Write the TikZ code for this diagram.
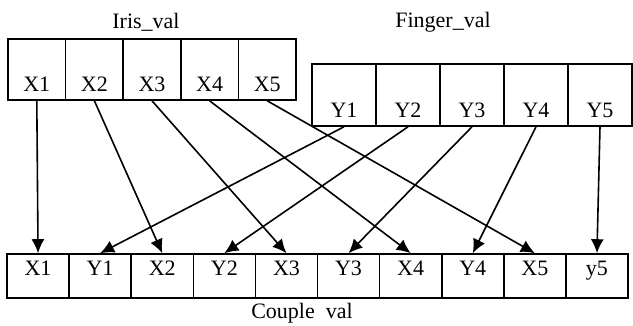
\documentclass[tikz,border=0pt]{standalone}
\usepackage{fontspec}
\setmainfont{Liberation Serif}
\usepackage{tikz}
\usetikzlibrary{arrows.meta}

\begin{document}
\begin{tikzpicture}[
    x=1pt, y=-1pt,
    cell/.style={rectangle, draw=black, line width=1.6pt, inner sep=0pt, font=\fontsize{22}{26}\selectfont},
    iriscell/.style={cell, minimum width=57.6pt, minimum height=61pt, text height=43pt, text depth=0pt},
    fingercell/.style={cell, minimum width=64pt, minimum height=62pt, text height=44pt, text depth=0pt},
    couplecell/.style={cell, minimum width=62.1pt, minimum height=44pt, text height=15pt, text depth=17pt},
    title/.style={font=\fontsize{22}{26}\selectfont, inner sep=0pt},
    link/.style={line width=1.6pt, black, -{Latex[length=14pt, width=13pt]}},
]
    \useasboundingbox (0,0) rectangle (633,325);

    % --- Iris_val (top left) ---
    \node[title] (IrisT) at (146, 22) {Iris\_val};
    \node[iriscell] (X1) at (36.8, 69.5)  {X1};
    \node[iriscell] (X2) at (94.4, 69.5)  {X2};
    \node[iriscell] (X3) at (152, 69.5)   {X3};
    \node[iriscell] (X4) at (209.6, 69.5) {X4};
    \node[iriscell] (X5) at (267.2, 69.5) {X5};

    % --- Finger_val (top right) ---
    \node[title] (FingerT) at (443, 22) {Finger\_val};
    \node[fingercell] (Y1) at (344, 95) {Y1};
    \node[fingercell] (Y2) at (408, 95) {Y2};
    \node[fingercell] (Y3) at (472, 95) {Y3};
    \node[fingercell] (Y4) at (536, 95) {Y4};
    \node[fingercell] (Y5) at (600, 95) {Y5};

    % --- Couple val (bottom) ---
    \node[couplecell] (CX1) at (38.05, 276)  {X1};
    \node[couplecell] (CY1) at (100.15, 276) {Y1};
    \node[couplecell] (CX2) at (162.25, 276) {X2};
    \node[couplecell] (CY2) at (224.35, 276) {Y2};
    \node[couplecell] (CX3) at (286.45, 276) {X3};
    \node[couplecell] (CY3) at (348.55, 276) {Y3};
    \node[couplecell] (CX4) at (410.65, 276) {X4};
    \node[couplecell] (CY4) at (472.75, 276) {Y4};
    \node[couplecell] (CX5) at (534.85, 276) {X5};
    \node[couplecell] (CY5) at (596.95, 276) {y5};
    \node[title] (CoupleT) at (302, 313) {Couple\ \ val};

    % --- Iris values to odd slots ---
    \draw[link] (X1.south) -- (CX1.north);
    \draw[link] (X2.south) -- (CX2.north);
    \draw[link] (X3.south) -- (CX3.north);
    \draw[link] (X4.south) -- (CX4.north);
    \draw[link] (X5.south) -- (CX5.north);

    % --- Finger values to even slots ---
    \draw[link] (Y1.south) -- (CY1.north);
    \draw[link] (Y2.south) -- (CY2.north);
    \draw[link] (Y3.south) -- (CY3.north);
    \draw[link] (Y4.south) -- (CY4.north);
    \draw[link] (Y5.south) -- (CY5.north);

\end{tikzpicture}
\end{document}
